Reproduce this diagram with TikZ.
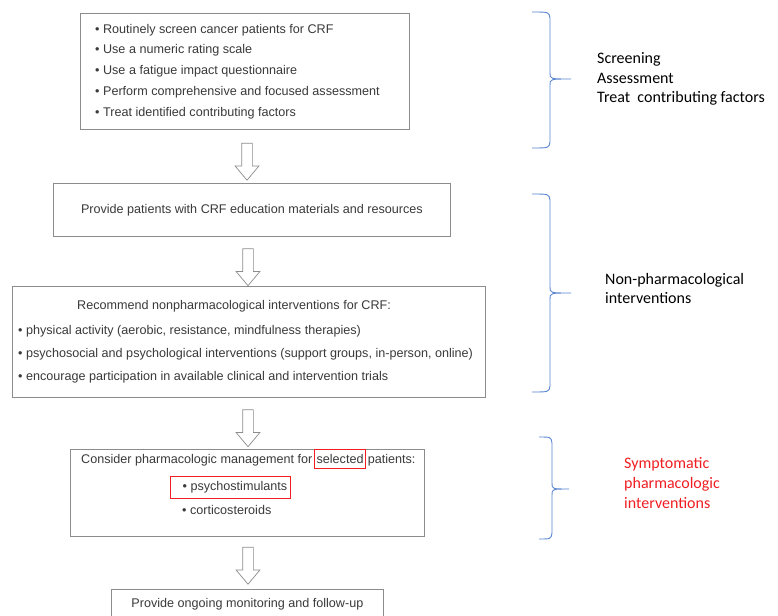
\documentclass[tikz,border=0pt]{standalone}
\usepackage{fontspec}
\newfontfamily\boxfont{Liberation Sans}
\newfontfamily\notefont{Carlito}
\usetikzlibrary{positioning,shapes.arrows}
\definecolor{boxline}{HTML}{8C8C8C}
\definecolor{boxtext}{HTML}{3A3A3A}
\definecolor{bracecol}{HTML}{5B87D1}
\definecolor{hired}{HTML}{F01E23}
\tikzset{
  stepbox/.style={draw=boxline, line width=0.8pt, fill=white, inner sep=0pt},
  boxtxt/.style={font=\boxfont\fontsize{12.6}{20.7}\selectfont, text=boxtext, inner sep=0pt, align=left},
  downarrow/.style={draw=boxline, line width=0.7pt, single arrow, shape border rotate=270,
    minimum height=37pt, minimum width=0pt, inner sep=5pt,
    single arrow head extend=6.5pt, single arrow tip angle=80},
  hilite/.style={draw=hired, line width=1.2pt},
  sidebrace/.style={draw=bracecol, line width=0.9pt},
  note/.style={font=\notefont\fontsize{16}{19.8}\selectfont, align=left, inner sep=0pt},
}
\begin{document}
\begin{tikzpicture}[x=1pt, y=-1pt]
  \clip (0,0) rectangle (778,615);
  \fill[white] (0,0) rectangle (778,615);
  % boxes of the flow
  \node[stepbox, anchor=north west, minimum width=329pt, minimum height=116pt] (screen) at (80,13) {};
  \node[boxtxt, anchor=west] (screen-txt) at ([xshift=15pt]screen.west)
    {• Routinely screen cancer patients for CRF\\
     • Use a numeric rating scale\\
     • Use a fatigue impact questionnaire\\
     • Perform comprehensive and focused assessment\\
     • Treat identified contributing factors};
  \node[stepbox, boxtxt, anchor=north west, minimum width=397pt, minimum height=53pt] (educate) at (53,183)
    {Provide patients with CRF education materials and resources};
  \node[stepbox, anchor=north west, minimum width=473pt, minimum height=111pt] (nonpharm) at (12,286) {};
  \node[boxtxt, font=\boxfont\fontsize{12.6}{23.3}\selectfont, anchor=west] (nonpharm-txt) at ([xshift=6pt]nonpharm.west)
    {\hspace*{59pt}Recommend nonpharmacological interventions for CRF:\\[1.5pt]
     • physical activity (aerobic, resistance, mindfulness therapies)\\
     • psychosocial and psychological interventions (support groups, in-person, online)\\
     • encourage participation in available clinical and intervention trials};
  \node[stepbox, anchor=north west, minimum width=354pt, minimum height=87pt] (pharm) at (70,449) {};
  \node[boxtxt, anchor=base west] (consider) at (81,463.5) {Consider pharmacologic management for};
  \node[boxtxt, hilite, inner xsep=2pt, inner ysep=5pt, anchor=base west] (selected)
    at ([xshift=1.5pt]consider.base east) {selected};
  \node[boxtxt, anchor=base west] (patients) at ([xshift=1.5pt]selected.base east) {patients:};
  \node[boxtxt, hilite, inner xsep=3pt, minimum height=22pt, anchor=north west] (psycho) at (170,476)
    {\hspace*{9pt}• psychostimulants};
  \node[boxtxt, anchor=base west] (cortico) at ([xshift=12pt, yshift=-24pt]psycho.base west) {• corticosteroids};
  \node[stepbox, boxtxt, anchor=north west, minimum width=272pt, minimum height=30pt] (monitor) at (111,589)
    {Provide ongoing monitoring and follow-up};
  % hollow arrows
  \node[downarrow] (a1) at (247,158.5) {};
  \node[downarrow] (a2) at (248,264) {};
  \node[downarrow] (a3) at (248,425) {};
  \node[downarrow] (a4) at (248,562.5) {};
  % braces and notes
  \coordinate (tip1) at (571,79);
  \coordinate (tip2) at (571,293);
  \coordinate (tip3) at (569,489);
  \draw[sidebrace] (532,12) .. controls (549,12) .. (550,18) -- (550,73)
    .. controls (550,79) .. (tip1) .. controls (550,79) .. (550,85) -- (550,142)
    .. controls (549,148) .. (532,148);
  \draw[sidebrace] (532,194) .. controls (549,194) .. (550,200) -- (550,287)
    .. controls (550,293) .. (tip2) .. controls (550,293) .. (550,299) -- (550,386)
    .. controls (549,392) .. (532,392);
  \draw[sidebrace] (539,437) .. controls (551,437) .. (552,443) -- (552,483)
    .. controls (552,489) .. (tip3) .. controls (552,489) .. (552,495) -- (552,533)
    .. controls (551,539) .. (539,539);
  \node[note, right=26pt of tip1] (screen-note) {Screening\\Assessment\\Treat\ \ contributing factors};
  \node[note, right=34pt of tip2, yshift=4.5pt] (nonpharm-note) {Non-pharmacological\\interventions};
  \node[note, text=hired, right=55pt of tip3, yshift=6pt] (pharm-note) {Symptomatic\\pharmacologic\\interventions};
\end{tikzpicture}
\end{document}
